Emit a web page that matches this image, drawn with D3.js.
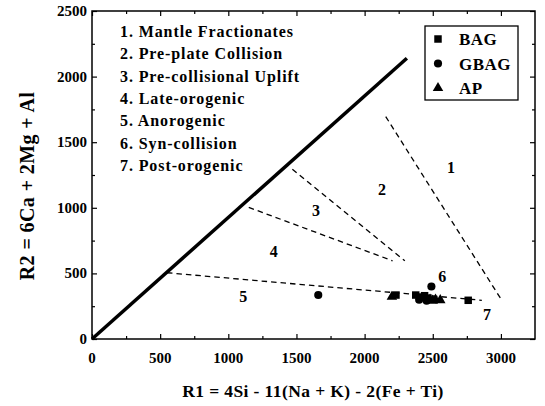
<!DOCTYPE html>
<html><head><meta charset="utf-8">
<script src="https://cdn.jsdelivr.net/npm/d3@7"></script>
<style>body{margin:0;background:#fff}svg{display:block}text{font-family:"Liberation Serif","DejaVu Serif",serif;font-weight:bold;fill:#000}</style>
</head><body><svg id="c" width="545" height="406"></svg>
<script>
const xTicks = [0,500,1000,1500,2000,2500,3000];
const yTicks = [0,500,1000,1500,2000,2500];
const fieldNames = ["1. Mantle Fractionates","2. Pre-plate Collision","3. Pre-collisional Uplift","4. Late-orogenic","5. Anorogenic","6. Syn-collision","7. Post-orogenic"];
const solidLine = [[0,0],[2310,2140]];
const dashedLines = [
  [[550,505],[2860,295]],
  [[1150,1003],[2205,596]],
  [[1470,1294],[2295,596]],
  [[2155,1695],[3005,297]]
];
const regionLabels = [
  {t:"1",x:2633,y:1307},{t:"2",x:2128,y:1142},{t:"3",x:1644,y:982},
  {t:"4",x:1333,y:668},{t:"5",x:1110,y:322},{t:"6",x:2569,y:475},{t:"7",x:2897,y:190}
];
const bag = [[2230,335],[2375,335],[2405,320],[2440,330],[2465,312],[2760,295]];
const gbag = [[1660,335],[2490,400],[2400,300],[2455,292]];
const ap = [[2200,322],[2480,300],[2520,300],[2555,296],[2500,292]];
const legendItems = ["BAG","GBAG","AP"];

const svg = d3.select("#c");
const L=92,R=535,T=11,B=339;
const x = d3.scaleLinear().domain([0,3250]).range([L,R]);
const y = d3.scaleLinear().domain([0,2500]).range([B,T]);
const minorX = d3.range(250,3250,500), minorY = d3.range(250,2500,500);

// frame
svg.append("rect").attr("x",L).attr("y",T).attr("width",R-L).attr("height",B-T)
  .attr("fill","none").attr("stroke","#000").attr("stroke-width",1.5);

function axisTicks(axis, scale, major, minor){
  svg.append("g").attr("transform",axis.tr).call(axis.fn(scale).tickValues(major).tickSize(-5).tickFormat(""))
    .call(g=>g.select(".domain").remove());
  svg.append("g").attr("transform",axis.tr).call(axis.fn(scale).tickValues(minor).tickSize(-3).tickFormat(""))
    .call(g=>g.select(".domain").remove());
}
axisTicks({tr:`translate(0,${B})`,fn:d3.axisBottom}, x, xTicks, minorX);
axisTicks({tr:`translate(0,${T})`,fn:d3.axisTop}, x, xTicks, minorX);
axisTicks({tr:`translate(${L},0)`,fn:d3.axisLeft}, y, yTicks, minorY);
axisTicks({tr:`translate(${R},0)`,fn:d3.axisRight}, y, yTicks, minorY);
svg.selectAll(".tick line").attr("stroke","#000").attr("stroke-width",1.2);

// tick labels
svg.append("g").selectAll("text").data(xTicks).join("text")
  .attr("x",d=>x(d)).attr("y",363).attr("text-anchor","middle").attr("font-size",15).text(d=>d);
svg.append("g").selectAll("text").data(yTicks).join("text")
  .attr("x",87).attr("y",d=>y(d)+5).attr("text-anchor","end").attr("font-size",15).text(d=>d);

// axis titles
svg.append("text").attr("x",313).attr("y",397).attr("text-anchor","middle").attr("font-size",17.5)
  .attr("letter-spacing",0.4).text("R1 = 4Si - 11(Na + K) - 2(Fe + Ti)");
svg.append("text").attr("transform","translate(34,186) rotate(-90)").attr("text-anchor","middle").attr("font-size",20)
  .attr("letter-spacing",0.4).text("R2 = 6Ca + 2Mg + Al");

// lines
const line = d3.line().x(d=>x(d[0])).y(d=>y(d[1]));
svg.append("path").attr("d",line(solidLine)).attr("stroke","#000").attr("stroke-width",3.5).attr("fill","none");
svg.append("g").selectAll("path").data(dashedLines).join("path").attr("d",line)
  .attr("stroke","#000").attr("stroke-width",1.3).attr("stroke-dasharray","5.5,4").attr("fill","none");

// region labels
svg.append("g").selectAll("text").data(regionLabels).join("text")
  .attr("x",d=>x(d.x)).attr("y",d=>y(d.y)+5.5).attr("text-anchor","middle").attr("font-size",16).text(d=>d.t);

// field names
svg.append("g").selectAll("text").data(fieldNames).join("text")
  .attr("x",120).attr("y",(d,i)=>37+i*22.3).attr("font-size",16).attr("letter-spacing",0.9).text(d=>d);

// points
const sym = {
  sq: d3.symbol().type(d3.symbolSquare).size(56),
  ci: d3.symbol().type(d3.symbolCircle).size(52),
  tr: d3.symbol().type(d3.symbolTriangle).size(48)
};
function pts(data, s){
  svg.append("g").selectAll("path").data(data).join("path")
    .attr("transform",d=>`translate(${x(d[0])},${y(d[1])})`).attr("d",s).attr("fill","#000");
}
pts(bag, sym.sq); pts(gbag, sym.ci); pts(ap, sym.tr);

// legend
const lg = svg.append("g");
lg.append("rect").attr("x",425).attr("y",26).attr("width",93).attr("height",74)
  .attr("fill","#fff").attr("stroke","#000").attr("stroke-width",1.3);
const lsym=[sym.sq,sym.ci,sym.tr];
legendItems.forEach((t,i)=>{
  const yy=39+i*24.5;
  lg.append("path").attr("transform",`translate(438,${yy})`).attr("d",lsym[i]).attr("fill","#000");
  lg.append("text").attr("x",459).attr("y",yy+6).attr("font-size",17).attr("letter-spacing",0.5).text(t);
});
</script></body></html>
